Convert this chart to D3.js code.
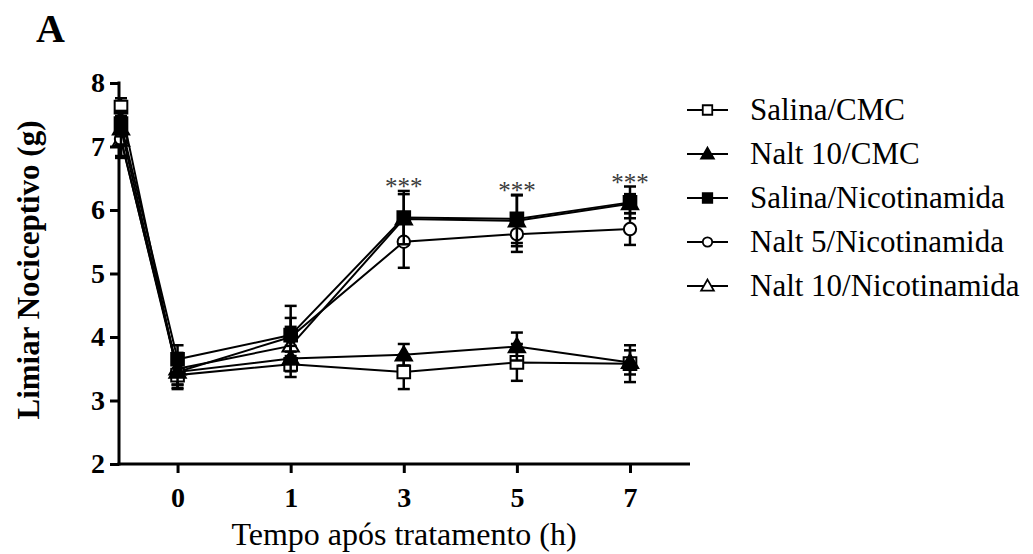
<!DOCTYPE html>
<html>
<head>
<meta charset="utf-8">
<script src="https://cdn.jsdelivr.net/npm/d3@7"></script>
<style>
  html, body { margin: 0; padding: 0; background: #fff; }
  svg { display: block; font-family: "Liberation Serif", "Times New Roman", serif; }
</style>
</head>
<body>
<svg id="chart" width="1033" height="554"></svg>
<script>
// Time points (first one is the baseline reading, left unlabeled)
const timeLabels = ["", "0", "1", "3", "5", "7"];
const yTicks = [2, 3, 4, 5, 6, 7, 8];

const groupNames = [
  "Salina/CMC",
  "Nalt 10/CMC",
  "Salina/Nicotinamida",
  "Nalt 5/Nicotinamida",
  "Nalt 10/Nicotinamida"
];

// Mean nociceptive threshold (g) and SEM per group
const salinaCmcMean   = [7.62, 3.40, 3.57, 3.45, 3.60, 3.58];
const salinaCmcSem    = [0.14, 0.22, 0.20, 0.27, 0.29, 0.29];
const nalt10CmcMean   = [7.28, 3.45, 3.66, 3.72, 3.85, 3.60];
const nalt10CmcSem    = [0.25, 0.20, 0.20, 0.17, 0.22, 0.19];
const salinaNicMean   = [7.36, 3.65, 4.03, 5.88, 5.86, 6.12];
const salinaNicSem    = [0.20, 0.22, 0.46, 0.42, 0.38, 0.25];
const nalt5NicMean    = [7.12, 3.45, 4.00, 5.50, 5.62, 5.70];
const nalt5NicSem     = [0.30, 0.25, 0.30, 0.41, 0.28, 0.25];
const nalt10NicMean   = [7.10, 3.50, 3.86, 5.86, 5.83, 6.10];
const nalt10NicSem    = [0.25, 0.25, 0.30, 0.39, 0.40, 0.15];

// Significance marks (time index)
const starIndex = [3, 4, 5];
const starText = "***";

const groups = [
  { name: groupNames[0], mean: salinaCmcMean, sem: salinaCmcSem, shape: "square",   filled: false },
  { name: groupNames[1], mean: nalt10CmcMean, sem: nalt10CmcSem, shape: "triangle", filled: true  },
  { name: groupNames[2], mean: salinaNicMean, sem: salinaNicSem, shape: "square",   filled: true  },
  { name: groupNames[3], mean: nalt5NicMean,  sem: nalt5NicSem,  shape: "circle",   filled: false },
  { name: groupNames[4], mean: nalt10NicMean, sem: nalt10NicSem, shape: "triangle", filled: false }
];
// draw order: the filled square series sits on top
const drawOrder = [4, 3, 0, 1, 2];

const svg = d3.select("#chart");

// baseline sits half a step left of the "0" tick
const x = d3.scaleLinear().domain([-0.5, 4]).range([121, 630]);
const y = d3.scaleLinear().domain([2, 8]).range([464, 83]);
const axisX0 = 119, axisX1 = 690;
const xi = i => x(i === 0 ? -0.5 : i - 1);

function symbolPath(shape, size) {
  const type = shape === "square" ? d3.symbolSquare
             : shape === "triangle" ? d3.symbolTriangle
             : d3.symbolCircle;
  return d3.symbol().type(type).size(size)();
}
const markerArea = { square: 160, triangle: 115, circle: 120 };

// Axes
const yAxis = d3.axisLeft(y).tickValues(yTicks).tickSize(9).tickPadding(5).tickFormat(d3.format("d"));
const gy = svg.append("g").attr("transform", `translate(${axisX0},0)`).call(yAxis);
gy.attr("font-family", null).attr("font-size", null);
gy.select(".domain").remove();
gy.selectAll(".tick line").attr("stroke", "#000").attr("stroke-width", 3);
gy.selectAll(".tick text").attr("font-size", 28).attr("font-weight", "bold")
  .attr("font-family", "Liberation Serif").attr("fill", "#000");
svg.append("line").attr("x1", axisX0).attr("x2", axisX0).attr("y1", y(8) - 1.5).attr("y2", y(2) + 1.5)
  .attr("stroke", "#000").attr("stroke-width", 3);

const xAxis = d3.axisBottom(x).tickValues(d3.range(0, timeLabels.length - 1))
  .tickFormat(d => timeLabels[d + 1]).tickSize(9).tickPadding(14);
const gx = svg.append("g").attr("transform", `translate(0,${y(2)})`).call(xAxis);
gx.attr("font-family", null).attr("font-size", null);
gx.select(".domain").remove();
gx.selectAll(".tick line").attr("stroke", "#000").attr("stroke-width", 3);
gx.selectAll(".tick text").attr("font-size", 28).attr("font-weight", "bold")
  .attr("font-family", "Liberation Serif").attr("fill", "#000");
svg.append("line").attr("x1", axisX0 - 1.5).attr("x2", axisX1).attr("y1", y(2)).attr("y2", y(2))
  .attr("stroke", "#000").attr("stroke-width", 3);

// Titles
svg.append("text").attr("x", 404).attr("y", 545).attr("text-anchor", "middle")
  .attr("font-size", 32).text("Tempo após tratamento (h)");
svg.append("text").attr("transform", `translate(39,270) rotate(-90)`)
  .attr("text-anchor", "middle").attr("font-size", 31).attr("font-weight", "bold")
  .text("Limiar Nociceptivo (g)");
svg.append("text").attr("x", 36).attr("y", 42).attr("font-size", 40).attr("font-weight", "bold").text("A");

// Series
const plot = svg.append("g");
const line = d3.line().x((d, i) => xi(i)).y(d => y(d));

drawOrder.forEach(gi => {
  const g = groups[gi];
  const sg = plot.append("g");
  sg.append("path").attr("d", line(g.mean)).attr("fill", "none")
    .attr("stroke", "#000").attr("stroke-width", 2);
  g.mean.forEach((m, i) => {
    const cx = xi(i), lo = y(m - g.sem[i]), hi = y(m + g.sem[i]);
    sg.append("line").attr("x1", cx).attr("x2", cx).attr("y1", lo).attr("y2", hi)
      .attr("stroke", "#000").attr("stroke-width", 2.5);
    [lo, hi].forEach(v => sg.append("line").attr("x1", cx - 6).attr("x2", cx + 6)
      .attr("y1", v).attr("y2", v).attr("stroke", "#000").attr("stroke-width", 2.5));
  });
  sg.selectAll("path.pt").data(g.mean).join("path").attr("class", "pt")
    .attr("d", symbolPath(g.shape, markerArea[g.shape]))
    .attr("transform", (d, i) => `translate(${xi(i)},${y(d) + (g.shape === "triangle" ? 1 : 0)})`)
    .attr("fill", g.filled ? "#000" : "#fff").attr("stroke", "#000").attr("stroke-width", 2);
});

// Significance asterisks above the highest error bar
starIndex.forEach(i => {
  const top = d3.max(groups, g => g.mean[i] + g.sem[i]);
  svg.append("text").attr("x", xi(i)).attr("y", y(top) + 4).attr("text-anchor", "middle")
    .attr("font-size", 25).attr("fill", "#3a3a3a").text(starText);
});

// Legend
const legendY = [110, 154, 198, 242, 286];
groups.forEach((g, k) => {
  const ly = legendY[k];
  svg.append("line").attr("x1", 687).attr("x2", 728).attr("y1", ly).attr("y2", ly)
    .attr("stroke", "#000").attr("stroke-width", 2);
  svg.append("path").attr("d", symbolPath(g.shape, g.shape === "square" ? 90 : 70))
    .attr("transform", `translate(707.5,${ly + (g.shape === "triangle" ? 1 : 0)})`)
    .attr("fill", g.filled ? "#000" : "#fff").attr("stroke", "#000").attr("stroke-width", 1.8);
  svg.append("text").attr("x", 750).attr("y", ly + 10).attr("font-size", 31).text(g.name);
});
</script>
</body>
</html>
